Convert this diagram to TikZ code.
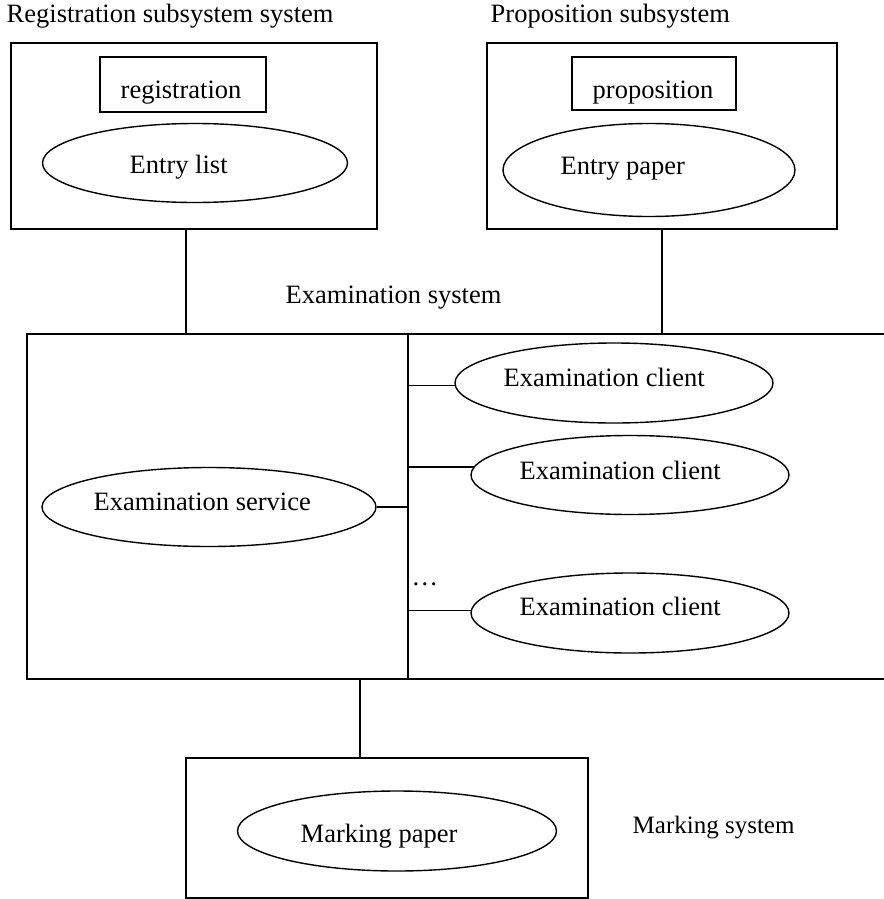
\documentclass[tikz,border=0pt]{standalone}
\usepackage{fontspec}
\setmainfont{Liberation Serif}
\usetikzlibrary{shapes.geometric}
\begin{document}
\begin{tikzpicture}[x=1pt,y=-1pt,
  line width=1.4pt,
  txt/.style={anchor=base west,inner sep=0pt,font=\fontsize{26.5}{30}\selectfont},
  sysbox/.style={draw,rectangle,inner sep=0pt},
  usecase/.style={draw,ellipse,inner sep=0pt}]
\useasboundingbox (0,0) rectangle (883,899);

% registration subsystem
\node[sysbox,minimum width=366pt,minimum height=186pt] (regsys) at (194,136) {};
\node[sysbox,minimum width=166pt,minimum height=55pt] (regbox) at (183,84.5) {};
\node[usecase,minimum width=305pt,minimum height=79pt] (entrylist) at (195,163) {};
\node[txt] (regtitle) at (6,23) {Registration subsystem system};
\node[txt] (regtxt) at (120,98) {registration};
\node[txt] (entrylisttxt) at (129,173) {Entry list};

% proposition subsystem
\node[sysbox,minimum width=350pt,minimum height=186pt] (propsys) at (662,136) {};
\node[sysbox,minimum width=164pt,minimum height=53pt] (propbox) at (654,83.5) {};
\node[usecase,minimum width=292pt,minimum height=93pt] (entrypaper) at (649,170) {};
\node[txt] (proptitle) at (490,23) {Proposition subsystem};
\node[txt] (proptxt) at (592,98) {proposition};
\node[txt] (entrypapertxt) at (560,174) {Entry paper};

% examination system (open to the right)
\node[sysbox,line width=1.6pt,minimum width=863pt,minimum height=345pt] (exam) at (458.5,506.5) {};
\node[txt] (examtitle) at (285,303) {Examination system};
\coordinate (divtop) at (408,334);
\coordinate (divbot) at (408,679);
\draw (divtop) -- (divbot);

\node[usecase,minimum width=334pt,minimum height=79pt] (service) at (209,507) {};
\node[txt] (servicetxt) at (93,510) {Examination service};

\node[usecase,minimum width=318pt,minimum height=80pt] (c1) at (614,383) {};
\node[usecase,minimum width=318pt,minimum height=79pt] (c2) at (630,475) {};
\node[usecase,minimum width=318pt,minimum height=80pt] (c3) at (630,613) {};
\node[txt] (c1txt) at (503,386) {Examination client};
\node[txt] (c2txt) at (519,479) {Examination client};
\node[txt] (c3txt) at (519,615) {Examination client};
\node[txt] (dots) at (411,585) {\dots};

\draw (service.east) -- (service.east -| divtop);
\draw (c1.181.8) -- (c1.181.8 -| divtop);
\draw (c2.177.1) -- (c2.177.1 -| divtop);
\draw (c3.179.3) -- (c3.179.3 -| divtop);

% marking system
\node[sysbox,minimum width=402pt,minimum height=140pt] (marksys) at (387,828) {};
\node[usecase,minimum width=319pt,minimum height=80pt] (markpaper) at (397,831) {};
\node[txt] (markpapertxt) at (300,842) {Marking paper};
\node[txt,font=\fontsize{25}{30}\selectfont] (marktitle) at (632,833) {Marking system};

% links between subsystems
\coordinate (regx) at (186,0);
\coordinate (markx) at (360,0);
\draw (regsys.south -| regx) -- (exam.north -| regx);
\draw (propsys.south) -- (propsys.south |- exam.north);
\draw (exam.south -| markx) -- (marksys.north -| markx);
\end{tikzpicture}
\end{document}
